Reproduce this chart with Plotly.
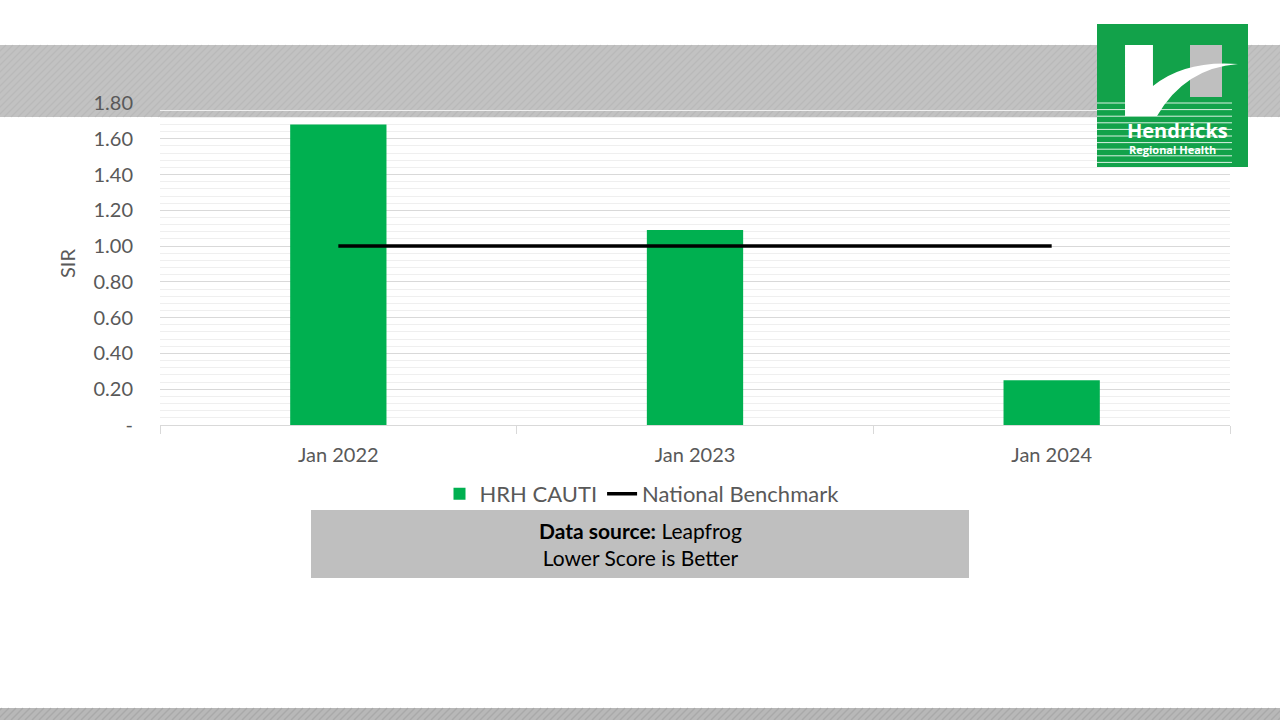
import plotly.graph_objects as go

categories = ["Jan 2022", "Jan 2023", "Jan 2024"]
hrh_cauti = [1.68, 1.09, 0.25]
national_benchmark = [1.00, 1.00, 1.00]
y_tick_vals = [0, 0.2, 0.4, 0.6, 0.8, 1.0, 1.2, 1.4, 1.6, 1.8]
y_tick_text = ["-", "0.20", "0.40", "0.60", "0.80", "1.00", "1.20", "1.40", "1.60", "1.80"]

W, H = 1280, 720
L, R, T, B = 160, 1230, 103, 425
PW, PH = R - L, B - T

def px(x):
    return (x - L) / PW

def py(y):
    return (B - y) / PH

FONT = "Lato"
GREY_TXT = "#595959"

fig = go.Figure()
fig.add_trace(go.Bar(x=categories, y=hrh_cauti, name="HRH CAUTI",
                     marker=dict(color="#00B050", line=dict(width=0)),
                     hoverinfo="skip"))
fig.add_trace(go.Scatter(x=categories, y=national_benchmark, name="National Benchmark",
                         mode="lines", line=dict(color="black", width=3.5),
                         hoverinfo="skip"))

shapes = []
# top and bottom grey bands
shapes.append(dict(type="rect", xref="paper", yref="paper", x0=px(0), x1=px(W),
                   y0=py(117), y1=py(45), fillcolor="#C2C2C2", line=dict(width=0), layer="below"))
shapes.append(dict(type="rect", xref="paper", yref="paper", x0=px(0), x1=px(W),
                   y0=py(720), y1=py(708), fillcolor="#B8B8B8", line=dict(width=0), layer="below"))
# subtle diagonal stripes on bands
for i in range(-80, 1300, 7):
    shapes.append(dict(type="line", xref="paper", yref="paper", x0=px(i), x1=px(i + 72),
                       y0=py(117), y1=py(45), line=dict(color="rgba(165,165,165,0.3)", width=1.5),
                       layer="below"))
    shapes.append(dict(type="line", xref="paper", yref="paper", x0=px(i), x1=px(i + 12),
                       y0=py(720), y1=py(708), line=dict(color="rgba(150,150,150,0.45)", width=1.5),
                       layer="below"))

# data source box
shapes.append(dict(type="rect", xref="paper", yref="paper", x0=px(311), x1=px(969),
                   y0=py(578), y1=py(510), fillcolor="#BFBFBF", line=dict(width=0)))

# logo
shapes.append(dict(type="rect", xref="paper", yref="paper", x0=px(1097), x1=px(1248),
                   y0=py(167), y1=py(24), fillcolor="#12A24A", line=dict(width=0)))
shapes.append(dict(type="rect", xref="paper", yref="paper", x0=px(1190), x1=px(1222),
                   y0=py(97), y1=py(45), fillcolor="#BFBFBF", line=dict(width=0)))
path = "M {:.4f},{:.4f} L {:.4f},{:.4f} L {:.4f},{:.4f} ".format(
    px(1125), py(45), px(1153), py(45), px(1153), py(86))
path += "Q {:.4f},{:.4f} {:.4f},{:.4f} ".format(px(1185), py(60), px(1238), py(64))
path += "Q {:.4f},{:.4f} {:.4f},{:.4f} ".format(px(1185), py(68), px(1157), py(116))
path += "L {:.4f},{:.4f} Z".format(px(1125), py(116))
shapes.append(dict(type="path", xref="paper", yref="paper", path=path,
                   fillcolor="white", line=dict(width=0)))
yy = 103.0
while yy <= 163:
    shapes.append(dict(type="line", xref="paper", yref="paper", x0=px(1097), x1=px(1232),
                       y0=py(yy), y1=py(yy), line=dict(color="rgba(255,255,255,0.85)", width=1)))
    yy += 6.6

annotations = [
    dict(text="SIR", xref="paper", yref="paper", x=px(67), y=py(264), showarrow=False,
         xanchor="center", yanchor="middle",
         textangle=-90, font=dict(family=FONT, size=20, color=GREY_TXT)),
    dict(text="<b>Data source:</b> Leapfrog<br>Lower Score is Better", xref="paper", yref="paper",
         x=px(640), y=py(544), showarrow=False, align="center", xanchor="center", yanchor="middle",
         font=dict(family=FONT, size=21, color="black")),
    dict(text="<b>Hendricks</b>", xref="paper", yref="paper", x=px(1177), y=py(130),
         showarrow=False, xanchor="center", yanchor="middle",
         font=dict(family="Open Sans", size=20, color="white")),
    dict(text="<b>Regional Health</b>", xref="paper", yref="paper", x=px(1172), y=py(149),
         showarrow=False, xanchor="center", yanchor="middle",
         font=dict(family="Open Sans", size=11, color="white")),
]

fig.update_layout(
    width=W, height=H,
    margin=dict(l=L, r=W - R, t=T, b=H - B),
    paper_bgcolor="white", plot_bgcolor="rgba(0,0,0,0)",
    bargap=0.73,
    showlegend=True,
    legend=dict(orientation="h", x=px(642), xanchor="center", y=py(494), yanchor="middle",
                font=dict(family=FONT, size=22, color=GREY_TXT), bgcolor="rgba(0,0,0,0)",
                itemwidth=30, tracegroupgap=0),
    shapes=shapes,
    annotations=annotations,
    xaxis=dict(type="category", showgrid=False, showline=True, linecolor="#D9D9D9", linewidth=1,
               ticks="outside", tickson="boundaries", ticklen=8, tickcolor="#D9D9D9",
               tickfont=dict(family=FONT, size=20, color=GREY_TXT), ticklabelstandoff=12,
               fixedrange=True),
    yaxis=dict(range=[0, 1.8], tickvals=y_tick_vals, ticktext=y_tick_text,
               showgrid=True, gridcolor="#D9D9D9", gridwidth=1, zeroline=False,
               showline=False, ticks="",
               minor=dict(dtick=0.04, showgrid=True, gridcolor="#EFEFEF", gridwidth=1),
               tickfont=dict(family=FONT, size=20, color=GREY_TXT), ticklabelstandoff=26,
               fixedrange=True),
)

fig.write_html("out.html")
